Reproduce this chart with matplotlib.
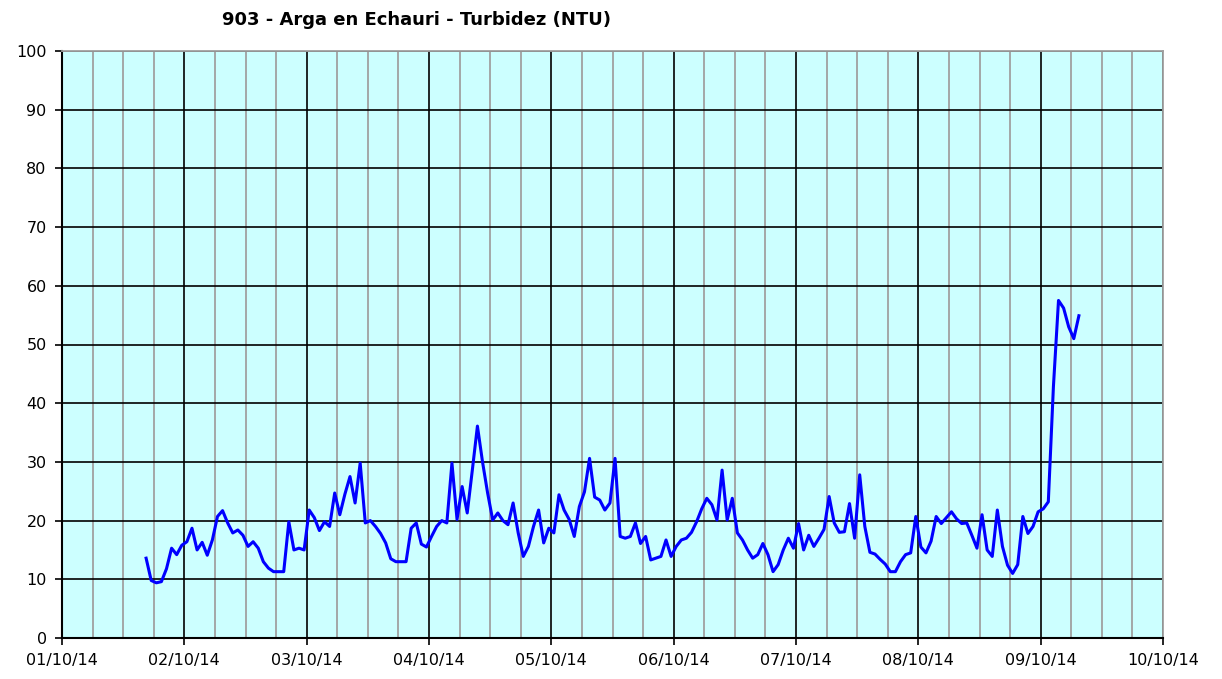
import matplotlib
matplotlib.use("Agg")
import matplotlib.pyplot as plt
import matplotlib.dates as mdates
import pandas as pd

plt.rcParams['font.family'] = ['DejaVu Sans']

title = "903 - Arga en Echauri - Turbidez (NTU)"
start_time = "2014-10-01 16:30"
x_min, x_max = "2014-10-01", "2014-10-10"
y_ticks = [0, 10, 20, 30, 40, 50, 60, 70, 80, 90, 100]

# hourly turbidity readings (NTU)
turbidity = [
    13.6, 9.8, 9.4, 9.6, 11.8, 15.3, 14.2, 15.8, 16.4, 18.7, 15.0, 16.3,
    14.1, 16.7, 20.7, 21.7, 19.6, 17.9, 18.4, 17.5, 15.6, 16.4, 15.3, 13.0,
    11.9, 11.3, 11.3, 11.3, 19.8, 15.0, 15.3, 15.0, 21.8, 20.5, 18.3, 19.8,
    19.0, 24.7, 21.0, 24.5, 27.5, 23.0, 29.8, 19.6, 20.0, 19.0, 17.8, 16.2,
    13.5, 13.0, 13.0, 13.0, 18.7, 19.6, 16.0, 15.5, 17.3, 19.0, 20.0, 19.6,
    29.8, 20.2, 25.8, 21.3, 28.6, 36.1, 30.0, 24.7, 20.1, 21.3, 20.0, 19.3,
    23.0, 17.9, 13.9, 15.6, 19.0, 21.8, 16.2, 18.7, 17.9, 24.4, 21.8, 20.2,
    17.3, 22.4, 24.9, 30.6, 24.0, 23.5, 21.8, 23.0, 30.6, 17.3, 17.0, 17.3,
    19.6, 16.1, 17.3, 13.3, 13.6, 13.9, 16.7, 13.9, 15.6, 16.7, 17.0, 18.0,
    19.8, 22.0, 23.8, 22.7, 20.1, 28.6, 20.1, 23.8, 17.9, 16.7, 15.0, 13.6,
    14.2, 16.1, 14.2, 11.3, 12.5, 15.0, 17.0, 15.3, 19.5, 15.0, 17.5, 15.6,
    17.0, 18.5, 24.1, 19.6, 18.0, 18.1, 22.9, 17.0, 27.8, 19.0, 14.6, 14.3,
    13.4, 12.6, 11.3, 11.3, 13.0, 14.2, 14.5, 20.7, 15.5, 14.5, 16.5, 20.7,
    19.5, 20.5, 21.5, 20.3, 19.5, 19.6, 17.5, 15.3, 21.0, 15.0, 13.9, 21.8,
    15.6, 12.4, 11.0, 12.5, 20.7, 17.8, 19.0, 21.5, 22.0, 23.2, 42.8, 57.5,
    56.2, 53.0, 51.0, 54.9,
]

times = pd.date_range(start_time, periods=len(turbidity), freq="h")

fig = plt.figure(figsize=(12.22, 6.79), dpi=100)
ax = fig.add_axes([62/1222, 1-638/679, (1163-62)/1222, (638-51)/679])
ax.set_facecolor("#CCFFFF")

ax.plot(times, turbidity, color="#0000FF", linewidth=2.2, zorder=3)

ax.set_xlim(pd.Timestamp(x_min), pd.Timestamp(x_max))
ax.set_ylim(0, 100)
ax.set_yticks(y_ticks)

ax.xaxis.set_major_locator(mdates.DayLocator())
ax.xaxis.set_major_formatter(mdates.DateFormatter("%d/%m/%y"))
ax.xaxis.set_minor_locator(mdates.HourLocator(byhour=[6, 12, 18]))

ax.grid(which="minor", axis="x", color="#A0A0A0", linewidth=1.3, zorder=1)
ax.grid(which="major", axis="x", color="#000000", linewidth=1.2, zorder=2)
ax.grid(which="major", axis="y", color="#000000", linewidth=1.2, zorder=2)
ax.set_axisbelow(True)

ax.tick_params(axis="both", which="major", labelsize=11.5, length=5, width=1.2,
               colors="black", pad=6)
ax.tick_params(axis="x", which="minor", length=0)

for side in ["left", "bottom"]:
    ax.spines[side].set_color("black")
    ax.spines[side].set_linewidth(1.5)
for side in ["top", "right"]:
    ax.spines[side].set_color("#A0A0A0")
    ax.spines[side].set_linewidth(1.3)

fig.text(417/1222, 1-20/679, title, ha="center", va="center",
         fontsize=13, fontweight="bold")

fig.savefig("out.png", dpi=100)
